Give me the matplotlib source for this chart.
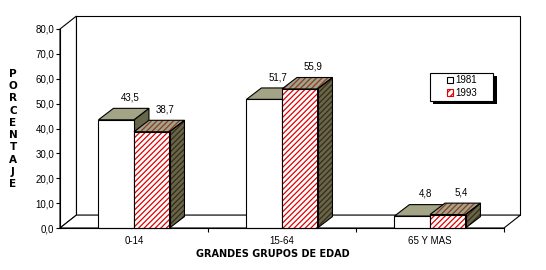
import matplotlib.pyplot as plt
from matplotlib.patches import Polygon, Rectangle, Patch

# ---- data ----
categories = ["0-14", "15-64", "65 Y MAS"]
years = ["1981", "1993"]
vals_1981 = [43.5, 51.7, 4.8]
vals_1993 = [38.7, 55.9, 5.4]
yticks = [0, 10, 20, 30, 40, 50, 60, 70, 80]
ytick_labels = ["0,0", "10,0", "20,0", "30,0", "40,0", "50,0", "60,0", "70,0", "80,0"]

plt.rcParams["font.family"] = ["Liberation Sans", "DejaVu Sans"]
plt.rcParams["hatch.linewidth"] = 0.9

W, H = 546, 270
fig = plt.figure(figsize=(W / 100, H / 100), dpi=100)
ax = fig.add_axes([60 / W, 42 / H, 444 / W, 199 / H])
ax.set_xlim(-0.5, 2.5)
ax.set_ylim(0, 80)

# 3D depth offsets (data units)
DXW, DYW = 0.111, 5.2     # walls
DXB, DYB = 0.101, 4.6     # bars
BW = 0.24                 # bar width

OLIVE = "#a3a386"
DARK = "#66664a"
LW = 0.8


def poly(pts, **kw):
    p = Polygon(pts, closed=True, clip_on=False, linewidth=LW, **kw)
    ax.add_patch(p)
    return p


def hatched(pts, face, hcolor, z):
    # fill + hatch, then black outline on top
    poly(pts, facecolor=face, edgecolor=hcolor, hatch="//////", lw=0, zorder=z)
    poly(pts, facecolor="none", edgecolor="black", zorder=z + 0.01)


# walls and floor
x0, x1 = -0.5, 2.5
poly([(x0 + DXW, DYW), (x1 + DXW, DYW), (x1 + DXW, 80 + DYW), (x0 + DXW, 80 + DYW)],
     facecolor="white", edgecolor="black", zorder=1)
poly([(x0, 0), (x0 + DXW, DYW), (x0 + DXW, 80 + DYW), (x0, 80)],
     facecolor="white", edgecolor="black", zorder=1)
poly([(x0, 0), (x1, 0), (x1 + DXW, DYW), (x0 + DXW, DYW)],
     facecolor="white", edgecolor="black", zorder=1)


def bar3d(xl, v, style, z):
    front = [(xl, 0), (xl + BW, 0), (xl + BW, v), (xl, v)]
    top = [(xl, v), (xl + BW, v), (xl + BW + DXB, v + DYB), (xl + DXB, v + DYB)]
    side = [(xl + BW, 0), (xl + BW + DXB, DYB), (xl + BW + DXB, v + DYB), (xl + BW, v)]
    if style == "plain":
        poly(side, facecolor=DARK, edgecolor="black", zorder=z)
        poly(top, facecolor=OLIVE, edgecolor="black", zorder=z)
        poly(front, facecolor="white", edgecolor="black", zorder=z)
    else:
        hatched(side, DARK, "#3a2a18", z)
        hatched(top, OLIVE, "#8a3a2a", z)
        hatched(front, "white", "#e00000", z)


for i in range(len(categories)):
    a, b = vals_1981[i], vals_1993[i]
    bar3d(i - BW, a, "plain", 3)
    bar3d(i, b, "hatch", 4)
    ax.text(i - BW / 2 + DXB - 0.01, a + DYB + 4.3, f"{a:.1f}".replace(".", ","),
            ha="center", va="center", fontsize=7, zorder=6)
    ax.text(i + BW / 2 + DXB - 0.01, b + DYB + 4.3, f"{b:.1f}".replace(".", ","),
            ha="center", va="center", fontsize=7, zorder=6)

# axes
for s in ["top", "right"]:
    ax.spines[s].set_visible(False)
ax.spines["left"].set_linewidth(LW)
ax.spines["bottom"].set_linewidth(LW)
ax.spines["left"].set_zorder(5)
ax.spines["bottom"].set_zorder(5)
ax.set_yticks(yticks)
ax.set_yticklabels(ytick_labels, fontsize=7)
ax.tick_params(axis="y", length=3, width=LW, pad=1)
ax.set_xticks(range(len(categories)))
ax.set_xticklabels(categories, fontsize=7)
ax.set_xticks([0.5, 1.5, 2.5], minor=True)
ax.tick_params(axis="x", which="major", length=0, pad=6)
ax.tick_params(axis="x", which="minor", length=3, width=LW)
ax.patch.set_visible(False)

# axis titles
fig.text(13 / W, 1 - 129 / H, "\n".join("PORCENTAJE"), ha="center", va="center",
         fontsize=7.5, fontweight="bold", linespacing=1.29, family="DejaVu Sans")
fig.text(273 / W, 1 - 254 / H, "GRANDES GRUPOS DE EDAD",
         ha="center", va="center", fontsize=7, fontweight="bold", family="DejaVu Sans")

# legend box with black shadow
fig.patches.append(Rectangle((433 / W, 1 - 104 / H), 64 / W, 28 / H, transform=fig.transFigure,
                             facecolor="black", edgecolor="black", lw=0, zorder=7))
fig.patches.append(Rectangle((430 / W, 1 - 101 / H), 63 / W, 28 / H, transform=fig.transFigure,
                             facecolor="white", edgecolor="black", lw=LW, zorder=8))
handles = [Patch(facecolor="white", edgecolor="black", linewidth=LW),
           Patch(facecolor="white", edgecolor="#e00000", hatch="/////", linewidth=LW)]
leg = fig.legend(handles, years, loc="center", bbox_to_anchor=(462 / W, 1 - 86.5 / H),
                 fontsize=7, frameon=False, handlelength=0.65, handleheight=0.65,
                 handletextpad=0.3, borderpad=0, labelspacing=0.25, borderaxespad=0)
leg.set_zorder(9)

fig.savefig("out.png", dpi=100)
